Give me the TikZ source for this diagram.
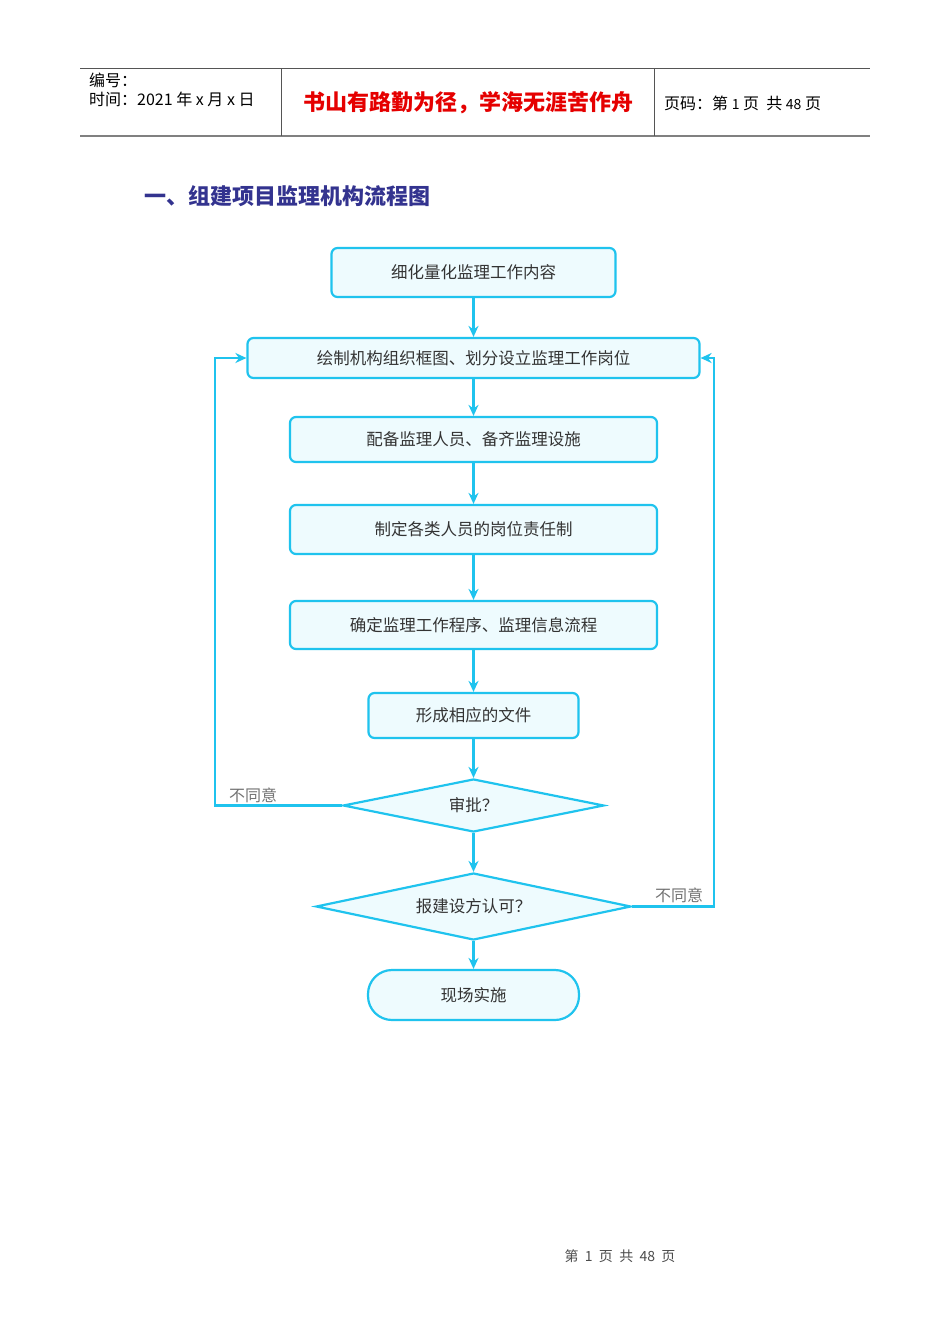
\documentclass[tikz,border=0pt]{standalone}
\usepackage{fontspec}
\setmainfont{Noto Sans CJK SC}
\usetikzlibrary{arrows.meta,shapes.geometric}
\definecolor{flowline}{HTML}{1FC3EE}
\definecolor{flowfill}{HTML}{EEFBFE}
\definecolor{titleblue}{HTML}{33338F}
\definecolor{hdrgray}{HTML}{555555}
\tikzset{
  box/.style={draw=flowline,fill=flowfill,line width=2.2pt,rounded corners=6pt,inner sep=0pt,font=\fontsize{16.5}{16.5}\selectfont,text=black!80},
  dia/.style={draw=flowline,fill=flowfill,line width=2.2pt,diamond,inner sep=0pt,font=\fontsize{16.5}{16.5}\selectfont,text=black!80},
  conn/.style={draw=flowline,line width=2.2pt,-{Stealth[length=11pt,width=10pt]}},
  lab/.style={font=\fontsize{16}{16}\selectfont,text=black!55,inner sep=0pt},
  hdr/.style={font=\fontsize{16}{16}\selectfont,anchor=west,inner sep=0pt},
}
\begin{document}
\begin{tikzpicture}[x=1pt,y=-1pt]
\useasboundingbox (0,0) rectangle (950,1344);
\fill[white] (0,0) rectangle (950,1344);
% header
\draw[line width=1pt,hdrgray] (80,68) -- (870,68);
\draw[line width=2pt,black!50] (80,136) -- (870,136);
\draw[line width=1pt,hdrgray] (281,68) -- (281,136);
\draw[line width=1pt,hdrgray] (654,68) -- (654,136);
\node[hdr] (h1) at (89,80) {编号：};
\node[hdr] (h2) at (89,99) {时间：2021 年 x 月 x 日};
\node[font=\fontsize{22}{22}\selectfont\bfseries,text=red!90!black,inner sep=0pt] (h3) at (468,103) {书山有路勤为径，学海无涯苦作舟};
\node[hdr] (h4) at (664,103) {页码：第 {\fontsize{14}{14}\selectfont 1} 页 \ 共 {\fontsize{14}{14}\selectfont 48} 页};
% title
\node[font=\fontsize{22}{22}\selectfont\bfseries,text=titleblue,anchor=west,inner sep=0pt] (title) at (144,196) {一、组建项目监理机构流程图};
% flowchart
\node[box,minimum width=284pt,minimum height=49pt] (b1) at (473.5,272.5) {细化量化监理工作内容};
\node[box,minimum width=452pt,minimum height=40pt] (b2) at (473.5,358) {绘制机构组织框图、划分设立监理工作岗位};
\node[box,minimum width=367pt,minimum height=45pt] (b3) at (473.5,439.5) {配备监理人员、备齐监理设施};
\node[box,minimum width=367pt,minimum height=49pt] (b4) at (473.5,529.5) {制定各类人员的岗位责任制};
\node[box,minimum width=367pt,minimum height=48pt] (b5) at (473.5,625) {确定监理工作程序、监理信息流程};
\node[box,minimum width=210pt,minimum height=45pt] (b6) at (473.5,715.5) {形成相应的文件};
\node[dia,minimum width=261pt,minimum height=53pt,shape aspect=4.9] (d1) at (473.5,805.5) {审批？};
\node[dia,minimum width=315pt,minimum height=67pt,shape aspect=4.7] (d2) at (473.5,906.5) {报建设方认可？};
\node[box,rounded corners=24pt,minimum width=211pt,minimum height=50pt] (t1) at (473.5,995) {现场实施};
\draw[conn] (b1) -- (b2);
\draw[conn] (b2) -- (b3);
\draw[conn] (b3) -- (b4);
\draw[conn] (b4) -- (b5);
\draw[conn] (b5) -- (b6);
\draw[conn] (b6) -- (d1);
\draw[conn] (d1) -- (d2);
\draw[conn] (d2) -- (t1);
\coordinate (lc) at (215,805.5);
\coordinate (rc) at (714,906.5);
\draw[conn] (d1.west) -- (lc) |- (b2.west);
\draw[conn] (d2.east) -- (rc) |- (b2.east);
\node[lab] (l1) at (253,795) {不同意};
\node[lab] (l2) at (679,895) {不同意};
% footer
\node[font=\fontsize{14}{14}\selectfont,text=black!70,inner sep=0pt] (foot) at (620,1256) {第 \ 1 \ 页 \ 共 \ 48 \ 页};
\end{tikzpicture}
\end{document}
